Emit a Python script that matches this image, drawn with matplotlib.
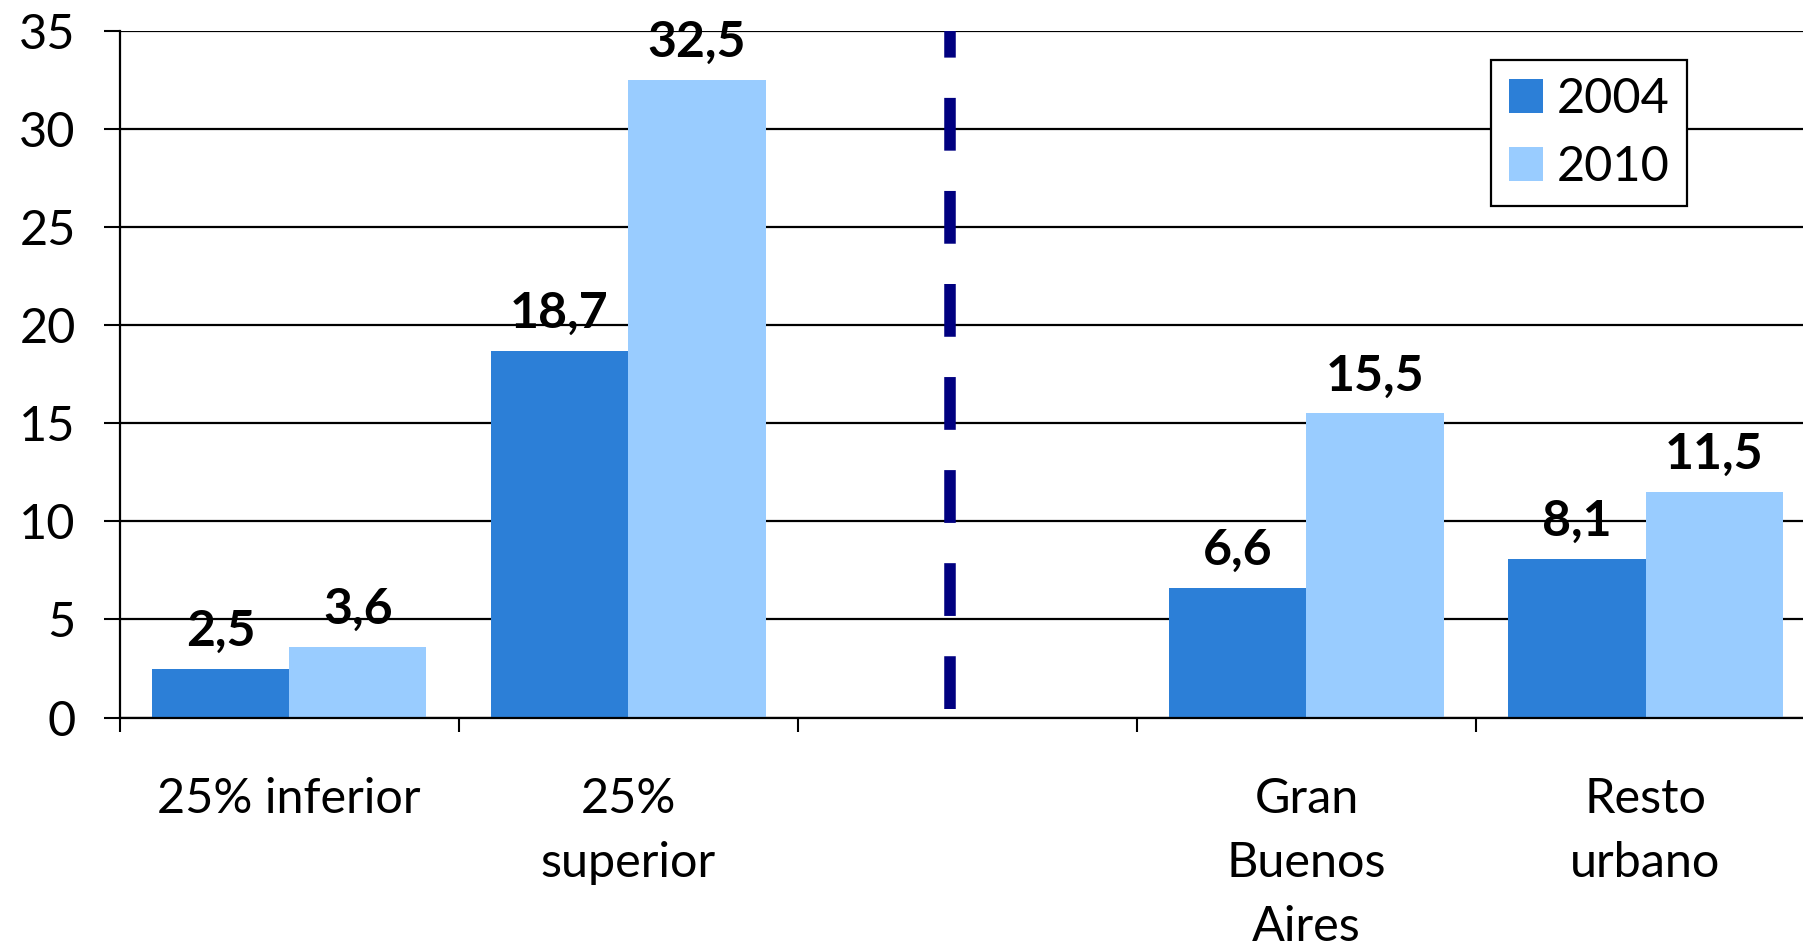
import numpy as np
import matplotlib
matplotlib.use("Agg")
import matplotlib.pyplot as plt

categories = ["25% inferior", "25%\nsuperior", "", "Gran\nBuenos\nAires", "Resto\nurbano"]
vals_2004 = [2.5, 18.7, np.nan, 6.6, 8.1]
vals_2010 = [3.6, 32.5, np.nan, 15.5, 11.5]
series_names = ["2004", "2010"]
y_ticks = [0, 5, 10, 15, 20, 25, 30, 35]

COL_2004 = "#2c7fd7"
COL_2010 = "#99ccff"
SEP_X = 1.95  # dashed separator between the two groups

plt.rcParams["font.family"] = ["Lato", "DejaVu Sans"]
plt.rcParams["lines.scale_dashes"] = False
FS = 35

fig = plt.figure(figsize=(18.03, 9.47), dpi=100)
ax = fig.add_axes([0.0663, 0.2423, 0.9404, 0.725])

x = np.arange(len(categories))
w = 0.405
b1 = ax.bar(x - w / 2, vals_2004, w, color=COL_2004, label=series_names[0], zorder=2)
b2 = ax.bar(x + w / 2, vals_2010, w, color=COL_2010, label=series_names[1], zorder=2)

for bars, vals in [(b1, vals_2004), (b2, vals_2010)]:
    for rect, v in zip(bars, vals):
        if np.isnan(v):
            continue
        ax.annotate(f"{v:.1f}".replace(".", ","),
                    (rect.get_x() + rect.get_width() / 2, v),
                    xytext=(0, 16.5), textcoords="offset points",
                    ha="center", va="baseline", fontsize=36,
                    fontweight="bold", annotation_clip=False, zorder=4)

ax.axvline(SEP_X, ymin=0.41 / 35, ymax=1, color="#000080", lw=8.3,
           dashes=(38, 29), dash_capstyle="butt", zorder=3)

ax.set_xlim(-0.5, len(categories) - 0.5)
ax.set_ylim(0, 35)
ax.set_yticks(y_ticks)
ax.yaxis.grid(True, color="black", lw=1.6)
ax.set_axisbelow(True)

ax.set_xticks(x)
ax.set_xticklabels(categories, fontsize=FS, linespacing=1.55)
ax.set_xticks(np.arange(len(categories) + 1) - 0.5, minor=True)
ax.tick_params(axis="x", which="major", length=0, pad=43)
ax.tick_params(axis="x", which="minor", length=10, width=1.5, color="black")
ax.tick_params(axis="y", length=11.5, width=1.5, labelsize=FS, pad=20)

for s in ["top", "right"]:
    ax.spines[s].set_visible(False)
ax.spines["left"].set_linewidth(1.6)
ax.spines["bottom"].set_linewidth(1.6)

leg = ax.legend(loc="upper right", bbox_to_anchor=(1687 / 1803, 1 - 60 / 947),
                bbox_transform=fig.transFigure, fontsize=FS, frameon=True,
                fancybox=False, framealpha=1, edgecolor="black",
                handlelength=0.7, handleheight=0.7, handletextpad=0.3,
                labelspacing=0.5, borderpad=0.35, borderaxespad=0)
leg.get_frame().set_linewidth(1.6)

fig.savefig("out.png", dpi=100)
